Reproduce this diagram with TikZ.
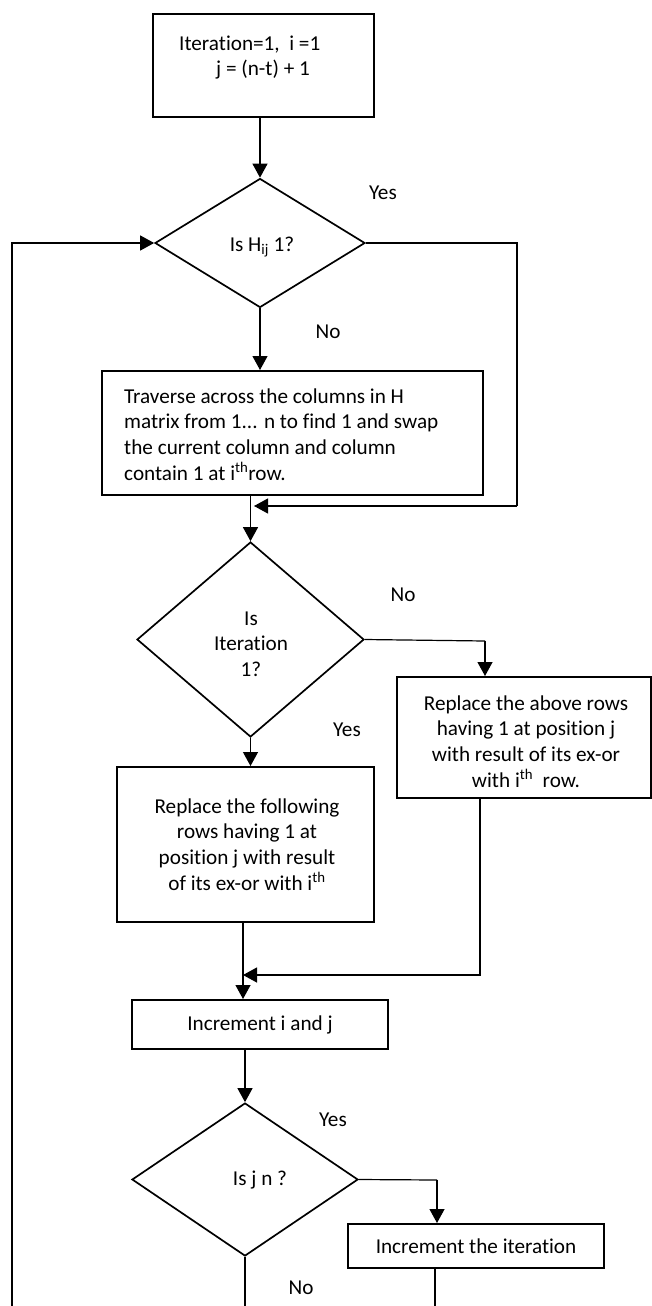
\documentclass[tikz,border=0pt]{standalone}
\usepackage{fontspec}
\setmainfont{Carlito}[Ligatures=NoCommon]
\usetikzlibrary{shapes.geometric,arrows.meta}
\begin{document}
\begin{tikzpicture}[x=1pt,y=-1pt,
  box/.style={draw,line width=2pt,inner sep=0pt},
  dia/.style={draw,diamond,line width=1.7pt,inner sep=0pt},
  txt/.style={font=\fontsize{21.2}{25.6}\selectfont,inner sep=0pt},
  lbl/.style={font=\fontsize{21.2}{24}\selectfont,inner sep=0pt},
  conn/.style={line width=1.2pt},
  arr/.style={conn,-{Triangle[length=14pt,width=15pt]}}]
\useasboundingbox (0,0) rectangle (652,1306);
% boxes
\node[box,minimum width=221pt,minimum height=103pt] (b1) at (263.5,65.5) {};
\node[txt,anchor=west,align=left] (b1t) at (179,57.5) {Iteration=1,\ \ i =1\\\hspace{37pt}j = (n-t) + 1};
\node[dia,minimum width=210pt,minimum height=129pt] (d1) at (260,243) {};
\node[txt] (d1t) at (262,247) {Is H\textsubscript{ij} 1?};
\node[box,minimum width=381pt,minimum height=124pt] (b2) at (292.5,433) {};
\node[txt,anchor=west,align=left] (b2t) at (124,434.5) {Traverse across the columns in H\\matrix from 1... n to find 1 and swap\\the current column and column\\contain 1 at i\textsuperscript{th}row.};
\node[dia,minimum width=227pt,minimum height=195pt] (d2) at (250.5,639.5) {};
\node[txt,align=center] (d2t) at (251,644) {Is\\Iteration\\1?};
\node[box,minimum width=254pt,minimum height=121pt] (b3) at (524,737.5) {};
\node[txt,align=center] (b3t) at (526,741.5) {Replace the above rows\\having 1 at position j\\with result of its ex-or\\with i\textsuperscript{th}\ \ row.};
\node[box,minimum width=257pt,minimum height=155pt] (b4) at (245.5,844.5) {};
\node[txt,align=center] (b4t) at (247,844.5) {Replace the following\\rows having 1 at\\position j with result\\of its ex-or with i\textsuperscript{th}};
\node[box,minimum width=256pt,minimum height=49pt,txt] (b5) at (260,1024.5) {Increment i and j};
\node[dia,minimum width=226pt,minimum height=153pt] (d3) at (245,1179.5) {};
\node[txt] (d3t) at (260,1180) {Is j n ?};
\node[box,minimum width=256pt,minimum height=44pt,txt] (b6) at (476,1246) {Increment the iteration};
% labels
\node[lbl] (y1) at (383,193) {Yes};
\node[lbl] (n1) at (328,332) {No};
\node[lbl] (n2) at (403,595) {No};
\node[lbl] (y2) at (347,730) {Yes};
\node[lbl] (y3) at (333,1120) {Yes};
\node[lbl] (n3) at (301,1288) {No};
% coordinates
\coordinate (L) at (12,1306);
\coordinate (R1) at (517,506);
\coordinate (j1) at (254,506);
\coordinate (k2) at (485,641);
\coordinate (j2) at (243,975);
\coordinate (k3) at (437,1180);
\coordinate (e1) at (245,1306);
\coordinate (e2) at (435,1306);
% connectors
\draw[arr] (d1.north |- b1.south) -- (d1.north);
\draw[arr] (L) |- (d1.west);
\draw[conn] (d1.east) -| (R1);
\draw[arr] (R1) -- (j1);
\draw[arr] (d1.south) -- (d1.south |- b2.north);
\draw[arr] (d2.north |- b2.south) -- (d2.north);
\draw[conn] (d2.east) -- (k2);
\draw[arr] (k2) -- (k2 |- b3.north);
\draw[arr] (d2.south) -- (d2.south |- b4.north);
\draw[arr] (j2 |- b4.south) -- (j2 |- b5.north);
\draw[arr] (b3.south -| 480,0) |- (j2);
\draw[arr] (d3.north |- b5.south) -- (d3.north);
\draw[conn] (d3.east) -- (k3);
\draw[arr] (k3) -- (k3 |- b6.north);
\draw[conn] (d3.south) -- (e1);
\draw[conn] (e2 |- b6.south) -- (e2);
\end{tikzpicture}
\end{document}
